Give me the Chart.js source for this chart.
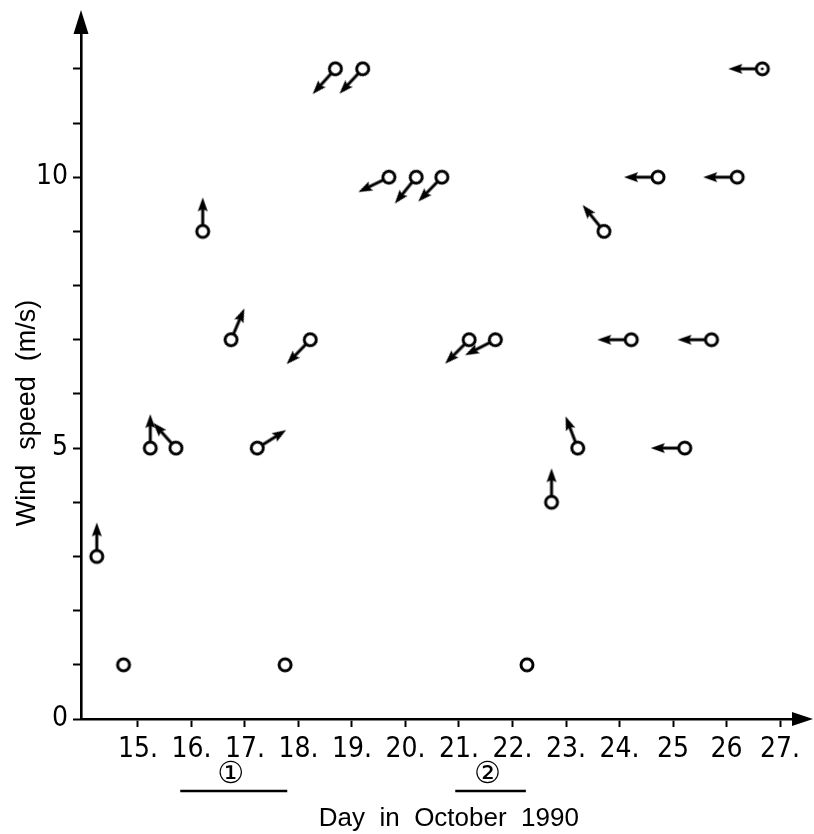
<!DOCTYPE html>
<html>
<head>
<meta charset="utf-8">
<script src="https://cdn.jsdelivr.net/npm/chart.js@4"></script>
<style>
  html, body { margin: 0; padding: 0; background: #fff; }
  #wrap { width: 814px; height: 834px; }
</style>
</head>
<body>
<div id="wrap"><canvas id="chart"></canvas></div>
<script>
// observation times (day in October 1990) and wind speed (m/s)
const days   = [14.23, 14.73, 15.23, 15.71, 16.21, 16.74, 17.23, 17.75, 18.22, 18.69, 19.2, 19.69, 20.2,
                20.68, 21.19, 21.68, 22.27, 22.73, 23.22, 23.71, 24.22, 24.72, 25.22, 25.72, 26.2, 26.67];
const speeds = [3, 1, 5, 5, 9, 7, 5, 1, 7, 12, 12, 10, 10,
                10, 7, 7, 1, 4, 5, 9, 7, 10, 5, 7, 10, 12];
// arrow direction, degrees clockwise from up; null = no arrow drawn
const arrowDirs = [0, null, 0, 318, 0, 23, 58, null, 224, 222, 223, 244, 219,
                   224, 225, 243, null, 0, 339, 321, 270, 270, 270, 270, 270, 270];
// last marker has a dot in the middle
const centreDots = [false, false, false, false, false, false, false, false, false, false, false, false, false,
                    false, false, false, false, false, false, false, false, false, false, false, false, true];

const xTickDays   = [15, 16, 17, 18, 19, 20, 21, 22, 23, 24, 25, 26, 27];
const xTickLabels = ['15.', '16.', '17.', '18.', '19.', '20.', '21.', '22.', '23.', '24.', '25', '26', '27.'];
const yTickValues = [0, 1, 2, 3, 4, 5, 6, 7, 8, 9, 10, 11, 12];
const yTickLabels = {0: '0', 5: '5', 10: '10'};

// marked periods under the time axis
const periodNames = ['\u2460', '\u2461'];
const periodFrom  = [15.79, 20.93];
const periodTo    = [17.79, 22.25];

const tickFont  = {family: "'Liberation Sans Narrow', 'DejaVu Sans Condensed', sans-serif", size: 28};
const titleFont = {family: "'Liberation Sans', sans-serif", size: 26};

function makeMarker(withArrow, dot) {
  const size = 80, c = size / 2;
  const cv = document.createElement('canvas');
  cv.width = size; cv.height = size;
  const g = cv.getContext('2d');
  g.strokeStyle = '#000';
  g.fillStyle = '#000';
  g.lineWidth = 3;
  if (withArrow) {
    g.beginPath();
    g.moveTo(c, c - 5);
    g.lineTo(c, c - 24);
    g.stroke();
    g.beginPath();
    g.moveTo(c, c - 34);
    g.lineTo(c - 5, c - 20);
    g.lineTo(c, c - 22.5);
    g.lineTo(c + 5, c - 20);
    g.closePath();
    g.fill();
  }
  g.beginPath();
  g.arc(c, c, 6, 0, Math.PI * 2);
  g.fillStyle = '#fff';
  g.fill();
  g.stroke();
  if (dot) {
    g.beginPath();
    g.arc(c, c, 1.4, 0, Math.PI * 2);
    g.fillStyle = '#000';
    g.fill();
  }
  return cv;
}

const plainMark = makeMarker(false, false);
const arrowMark = makeMarker(true, false);
const dotArrowMark = makeMarker(true, true);

const axisArrows = {
  id: 'axisArrows',
  afterDraw(chart) {
    const {ctx, chartArea: a} = chart;
    ctx.save();
    ctx.fillStyle = '#000';
    ctx.beginPath();
    ctx.moveTo(a.left, a.top - 22);
    ctx.lineTo(a.left - 7.5, a.top + 2);
    ctx.lineTo(a.left + 7.5, a.top + 2);
    ctx.closePath();
    ctx.fill();
    ctx.beginPath();
    ctx.moveTo(a.right + 18, a.bottom);
    ctx.lineTo(a.right - 3, a.bottom - 7);
    ctx.lineTo(a.right - 3, a.bottom + 7);
    ctx.closePath();
    ctx.fill();
    ctx.restore();
  }
};

const periods = {
  id: 'periods',
  afterDraw(chart) {
    const {ctx, chartArea: a} = chart;
    const xs = chart.scales.x;
    ctx.save();
    ctx.fillStyle = '#000';
    ctx.strokeStyle = '#000';
    ctx.lineWidth = 2.6;
    ctx.textAlign = 'center';
    ctx.textBaseline = 'middle';
    ctx.font = "30px 'DejaVu Sans'";
    periodNames.forEach((name, i) => {
      const x0 = xs.getPixelForValue(periodFrom[i]);
      const x1 = xs.getPixelForValue(periodTo[i]);
      ctx.beginPath();
      ctx.moveTo(x0, a.bottom + 72);
      ctx.lineTo(x1, a.bottom + 72);
      ctx.stroke();
      ctx.fillText(name, (x0 + x1) / 2 - 3, a.bottom + 56);
    });
    ctx.restore();
  }
};

new Chart(document.getElementById('chart'), {
  type: 'scatter',
  data: {
    datasets: [{
      data: days.map((d, i) => ({x: d, y: speeds[i]})),
      pointStyle: ctx => arrowDirs[ctx.dataIndex] == null ? plainMark
        : (centreDots[ctx.dataIndex] ? dotArrowMark : arrowMark),
      pointRotation: arrowDirs.map(a => a || 0),
      pointRadius: 7,
      clip: false
    }]
  },
  plugins: [axisArrows, periods],
  options: {
    responsive: true,
    maintainAspectRatio: false,
    animation: false,
    events: [],
    layout: {padding: {top: 32, right: 19, left: 0, bottom: 0}},
    plugins: {legend: {display: false}, tooltip: {enabled: false}},
    scales: {
      x: {
        type: 'linear',
        min: 13.935,
        max: 27.28,
        afterFit: s => { s.height = 115; },
        afterBuildTicks: s => { s.ticks = xTickDays.map(v => ({value: v})); },
        grid: {drawOnChartArea: false, tickLength: 8, tickWidth: 2, tickColor: '#000'},
        border: {color: '#000', width: 2.6},
        ticks: {
          callback: v => xTickLabels[xTickDays.indexOf(v)],
          font: tickFont, color: '#000', padding: 6, maxRotation: 0, autoSkip: false
        },
        title: {display: true, text: '   Day  in  October  1990', font: titleFont, color: '#000', padding: {top: 0, bottom: 0}}
      },
      y: {
        min: 0,
        max: 12.68,
        afterFit: s => { s.width = 81; },
        afterBuildTicks: s => { s.ticks = yTickValues.map(v => ({value: v})); },
        grid: {drawOnChartArea: false, tickLength: 8, tickWidth: 2, tickColor: '#000'},
        border: {color: '#000', width: 2.6},
        ticks: {
          callback: v => yTickLabels[v] || '',
          font: tickFont, color: '#000', padding: 5, autoSkip: false
        },
        title: {
          display: true,
          text: 'Wind  speed  (m/s)          ',
          font: {family: "'Liberation Sans', sans-serif", size: 27},
          color: '#000',
          padding: {top: 11, bottom: 0}
        }
      }
    }
  }
});
</script>
</body>
</html>
